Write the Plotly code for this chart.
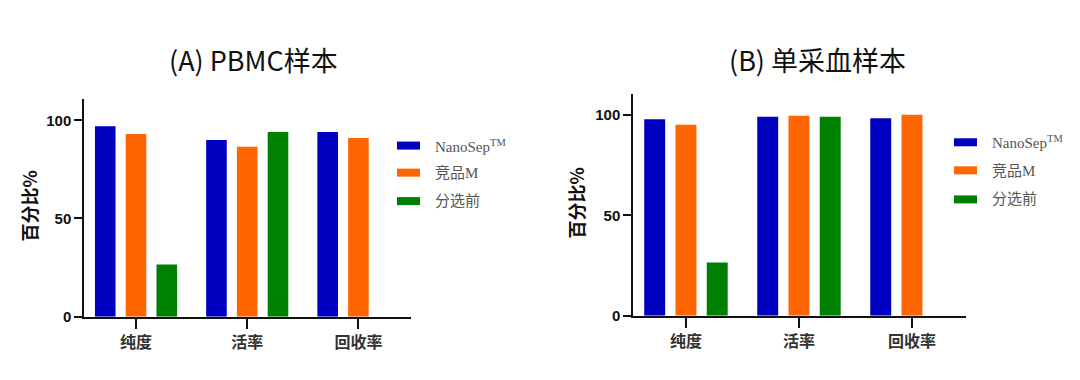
import plotly.graph_objects as go

# ---- data ----
categories = ["纯度", "活率", "回收率"]
series_names = ["NanoSep<sup>TM</sup>", "竞品M", "分选前"]
series_colors = ["#0000C0", "#FF6600", "#008000"]

a_nanosep = [97, 90, 94]
a_comp_m = [93, 86.5, 91]
a_pre = [26.5, 94, None]

b_nanosep = [98, 99.2, 98.5]
b_comp_m = [95.2, 99.7, 100.2]
b_pre = [26.5, 99.2, None]

panel_titles = ["(A) PBMC样本", "(B) 单采血样本"]
y_title = "百分比%"
y_ticks = [0, 50, 100]

W, H = 1080, 380
K = 0.977  # vertical scale observed in the captured page


def px(x):
    return x / W


def py(y):
    return (H - y / K) / H


fig = go.Figure()

panels = [
    ("x", "y", [a_nanosep, a_comp_m, a_pre]),
    ("x2", "y2", [b_nanosep, b_comp_m, b_pre]),
]
for xa, ya, vals in panels:
    for name, color, v in zip(series_names, series_colors, vals):
        fig.add_trace(go.Bar(
            x=categories, y=v, name=name, xaxis=xa, yaxis=ya,
            marker=dict(color=color, line=dict(width=0)),
            showlegend=False,
        ))

axis_common = dict(
    showline=True, linecolor="#111111", linewidth=2,
    showgrid=False, zeroline=False,
    ticks="outside", tickcolor="#111111", tickwidth=2,
)
yfont = dict(family="Liberation Sans, Arial, sans-serif", size=15, color="#111111", weight="bold")
xfont = dict(family="Noto Sans CJK SC, sans-serif", size=16, color="#333333", weight="bold")

fig.update_layout(
    width=W, height=H,
    margin=dict(l=0, r=0, t=0, b=0),
    paper_bgcolor="white", plot_bgcolor="white",
    barmode="group", bargap=0.17, bargroupgap=0.33,
    showlegend=False,
    xaxis=dict(domain=[px(84.3), px(410.7)], range=[-0.465, 2.47], anchor="y",
               type="category", ticklen=10, tickfont=xfont, **axis_common),
    yaxis=dict(domain=[py(316), py(99.3)], range=[0, 110.6], anchor="x",
               tickvals=y_ticks, ticklen=8, tickfont=yfont, **axis_common),
    xaxis2=dict(domain=[px(633.3), px(966)], range=[-0.466, 2.478], anchor="y2",
                type="category", ticklen=10, tickfont=xfont, **axis_common),
    yaxis2=dict(domain=[py(315), py(94.3)], range=[0, 110.35], anchor="x2",
                tickvals=y_ticks, ticklen=8, tickfont=yfont, **axis_common),
)

annotations = []
shapes = []

# titles
for text, cx in zip(panel_titles, [253.8, 817]):
    annotations.append(dict(
        text=text, x=px(cx), y=py(59), xref="paper", yref="paper",
        xanchor="center", yanchor="middle", showarrow=False,
        font=dict(family="Noto Sans CJK SC, sans-serif", size=27, color="#111111"),
    ))

# y-axis titles
for cx, cy in [(29, 206), (576, 203)]:
    annotations.append(dict(
        text=y_title, x=px(cx), y=py(cy), xref="paper", yref="paper",
        xanchor="center", yanchor="middle", showarrow=False, textangle=-90,
        font=dict(family="Noto Sans CJK SC, sans-serif", size=18, color="#111111", weight="bold"),
    ))

# legends (swatches + labels)
legend_specs = [
    (397, 433, [145.3, 172.3, 200.7]),
    (954, 990, [142, 170, 199]),
]
for sx, tx, ys in legend_specs:
    for name, color, yc in zip(series_names, series_colors, ys):
        shapes.append(dict(
            type="rect", xref="paper", yref="paper",
            x0=px(sx), x1=px(sx + 23), y0=py(yc + 4), y1=py(yc - 4),
            fillcolor=color, line=dict(width=0),
        ))
        annotations.append(dict(
            text=name, x=px(tx), y=py(yc), xref="paper", yref="paper",
            xanchor="left", yanchor="middle", showarrow=False,
            font=dict(family="Liberation Serif, Noto Sans CJK SC, serif", size=15, color="#555555"),
        ))

fig.update_layout(annotations=annotations, shapes=shapes)

fig.write_html(
    "out.html",
    config={"displayModeBar": False},
    post_script="document.body.style.margin='0';document.body.style.overflow='hidden';",
)
